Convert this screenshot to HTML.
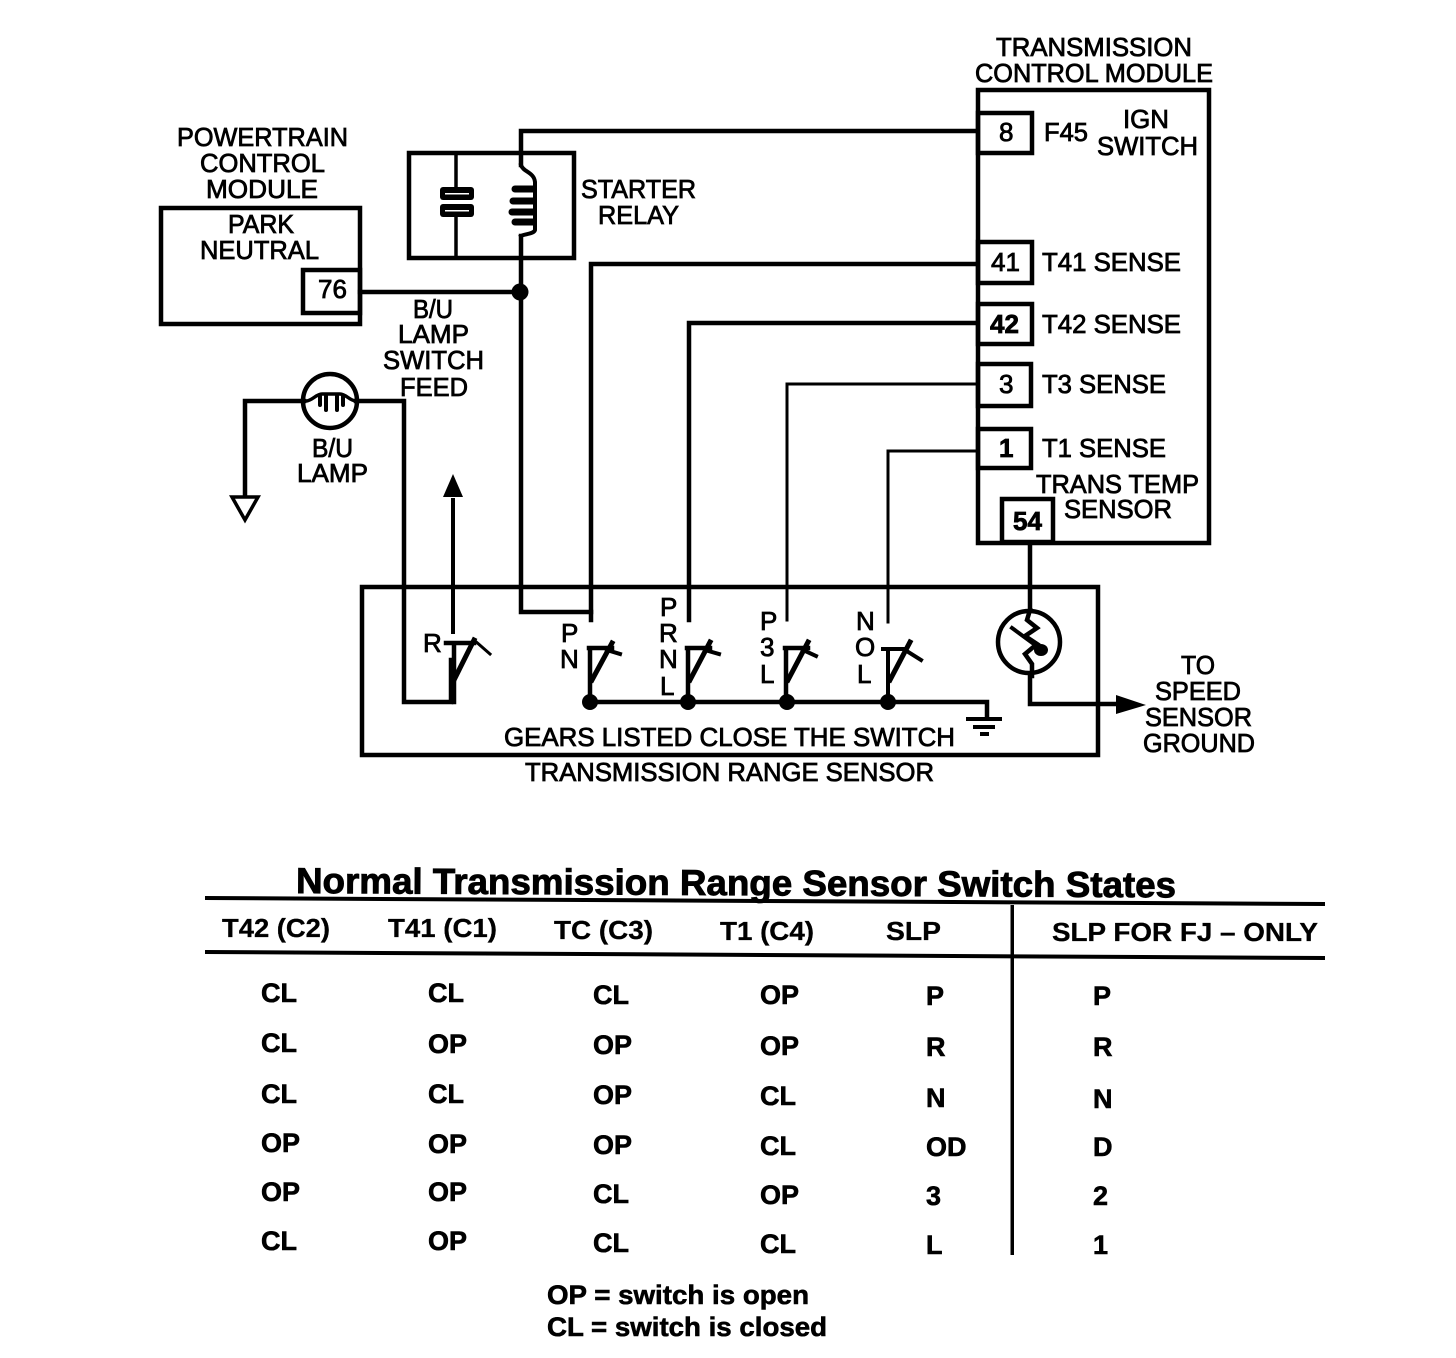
<!DOCTYPE html>
<html><head><meta charset="utf-8">
<style>
html,body{margin:0;padding:0;background:#fff}
svg{display:block}
text{font-family:"Liberation Sans",sans-serif;fill:#000}
.l{font-size:26px;stroke:#000;stroke-width:.8px}
.s{font-size:26px;stroke:#000;stroke-width:.8px}
.b{font-size:27px;font-weight:bold;stroke:#000;stroke-width:.6px}
.h{font-size:26px;font-weight:bold;stroke:#000;stroke-width:.3px}
.t{font-size:36px;font-weight:bold;stroke:#000;stroke-width:.9px}
</style></head><body>
<svg width="1456" height="1358" viewBox="0 0 1456 1358" xmlns="http://www.w3.org/2000/svg">
<g fill="none" stroke="#000" stroke-width="4.5" stroke-linecap="square">
<!-- TCM -->
<rect x="978" y="90" width="231" height="453"/>
<rect x="978" y="113" width="54" height="40"/>
<rect x="978" y="242" width="54" height="41"/>
<rect x="978" y="304" width="54" height="40"/>
<rect x="978" y="364" width="53" height="42"/>
<rect x="978" y="429" width="53" height="39"/>
<rect x="1002" y="499" width="51" height="43"/>
<!-- PCM -->
<rect x="161" y="208" width="199" height="116"/>
<rect x="303" y="270" width="57" height="43"/>
<!-- relay -->
<rect x="409" y="153" width="165" height="105"/>
<!-- wires -->
<path d="M521 165V131H977"/>
<path d="M521 236V612H591"/>
<path d="M360 292H521"/>
<path d="M591 620V264H977"/>
<path d="M689 620V323H977"/>
<path d="M787 620V384H977" stroke-width="3"/>
<path d="M888 622V451H977" stroke-width="3"/>
<path d="M1030 543V610"/>
<path d="M1030 676V704H1125"/>
<path d="M456 153V186M456 218V256" stroke-width="3.5"/>
<!-- coil -->
<path d="M521 165C523 172 534 172 535 182V230C534 234 524 234 521 236" stroke-width="4"/>
<path d="M515 189H533M513 201H533M512 212H533M515 222H533" stroke-width="7" stroke-linecap="round"/>
<!-- lamp -->
<path d="M245 494V401H304M356 401H404V702H451V660"/>
<circle cx="330" cy="401" r="27"/>
<path d="M306 401C312 401 316 394 322 394H340C346 394 350 401 356 401" stroke-width="3.5"/>
<path d="M320 396V405M326 396V410M337 396V410M343 396V405" stroke-width="4" stroke-linecap="round"/>
<!-- ground tri -->
<path d="M232 497H258L245 520Z" stroke-width="3.5"/>
<!-- TRS box -->
<path d="M362 587H1098V755H362Z"/>
<path d="M453 500V632" stroke-width="4"/>
<!-- switches -->
<path d="M590 702H987V716"/>
<g stroke-width="3.5">
<path d="M446 643H474M454 643V702" stroke-width="4.5"/>
<path d="M454 680L474 640" stroke-width="5"/>
<path d="M474 640L490 654" stroke-width="3"/>
<path d="M589 648H612M590 700V648" stroke-width="4.5"/>
<path d="M592 680L612 643" stroke-width="5"/>
<path d="M607 650L620 654" stroke-width="4"/>
<path d="M687 648H710M688 700V648" stroke-width="4.5"/>
<path d="M690 680L710 642" stroke-width="5"/>
<path d="M705 650L719 654" stroke-width="4"/>
<path d="M785 648H808M786 700V648" stroke-width="4.5"/>
<path d="M788 680L808 642" stroke-width="5"/>
<path d="M803 650L816 656" stroke-width="4"/>
<path d="M883 649H906M888 700V649" stroke-width="4"/>
<path d="M890 680L910 642" stroke-width="5"/>
<path d="M905 650L921 660" stroke-width="4"/>
</g>
<!-- thermistor -->
<circle cx="1029" cy="642" r="31"/>
<path d="M1030 610L1027 620L1037 628L1025 636L1037 644L1025 654L1032 664V676" stroke-width="4.5"/>
<path d="M1012 628L1042 650" stroke-width="4"/>
</g>
<g fill="#000" stroke="none">
<rect x="440" y="187" width="34" height="13" rx="3"/>
<rect x="440" y="204" width="34" height="13" rx="3"/>
<rect x="445" y="193" width="24" height="1.5" fill="#fff"/>
<rect x="445" y="210" width="24" height="1.5" fill="#fff"/>
<ellipse cx="1041" cy="650" rx="7" ry="6"/>
<circle cx="520" cy="292" r="8.5"/>
<circle cx="590" cy="702" r="8"/>
<circle cx="688" cy="702" r="8"/>
<circle cx="787" cy="702" r="8"/>
<circle cx="888" cy="702" r="8"/>
<path d="M443 497L453 474L463 497Z"/>
<path d="M1116 695L1146 705L1116 714Z"/>
<rect x="966" y="717" width="36" height="4"/>
<rect x="973" y="725" width="22" height="4"/>
<rect x="980" y="732" width="9" height="4"/>
<!-- table rules -->
<path d="M205 896L1325 902V906L205 900Z"/>
<path d="M205 950L1325 956V960L205 954Z"/>
<rect x="1010.500" y="905" width="3.500" height="350"/>
</g>
<!-- labels -->
<g class="l">
<text x="996" y="56" textLength="196" lengthAdjust="spacingAndGlyphs">TRANSMISSION</text>
<text x="975" y="82" textLength="238" lengthAdjust="spacingAndGlyphs">CONTROL MODULE</text>
<text x="177" y="146" textLength="171" lengthAdjust="spacingAndGlyphs">POWERTRAIN</text>
<text x="200" y="172" textLength="125" lengthAdjust="spacingAndGlyphs">CONTROL</text>
<text x="206" y="198" textLength="112" lengthAdjust="spacingAndGlyphs">MODULE</text>
<text x="228" y="233" textLength="66" lengthAdjust="spacingAndGlyphs">PARK</text>
<text x="200" y="259" textLength="119" lengthAdjust="spacingAndGlyphs">NEUTRAL</text>
<text x="581" y="198" textLength="115" lengthAdjust="spacingAndGlyphs">STARTER</text>
<text x="598" y="224" textLength="81" lengthAdjust="spacingAndGlyphs">RELAY</text>
<text x="1123" y="128" textLength="46" lengthAdjust="spacingAndGlyphs">IGN</text>
<text x="1097" y="155" textLength="101" lengthAdjust="spacingAndGlyphs">SWITCH</text>
<text x="413" y="318" textLength="40" lengthAdjust="spacingAndGlyphs">B/U</text>
<text x="398" y="343" textLength="71" lengthAdjust="spacingAndGlyphs">LAMP</text>
<text x="383" y="369" textLength="101" lengthAdjust="spacingAndGlyphs">SWITCH</text>
<text x="400" y="396" textLength="68" lengthAdjust="spacingAndGlyphs">FEED</text>
<text x="312" y="457" textLength="41" lengthAdjust="spacingAndGlyphs">B/U</text>
<text x="297" y="482" textLength="71" lengthAdjust="spacingAndGlyphs">LAMP</text>
<text x="1036" y="493" textLength="163" lengthAdjust="spacingAndGlyphs">TRANS TEMP</text>
<text x="1064" y="518" textLength="108" lengthAdjust="spacingAndGlyphs">SENSOR</text>
<text x="504" y="746" textLength="451" lengthAdjust="spacingAndGlyphs">GEARS LISTED CLOSE THE SWITCH</text>
<text x="525" y="781" textLength="409" lengthAdjust="spacingAndGlyphs">TRANSMISSION RANGE SENSOR</text>
<text x="1181" y="674" textLength="34" lengthAdjust="spacingAndGlyphs">TO</text>
<text x="1155" y="700" textLength="86" lengthAdjust="spacingAndGlyphs">SPEED</text>
<text x="1145" y="726" textLength="107" lengthAdjust="spacingAndGlyphs">SENSOR</text>
<text x="1143" y="752" textLength="112" lengthAdjust="spacingAndGlyphs">GROUND</text>
<text x="1042" y="271" textLength="139" lengthAdjust="spacingAndGlyphs">T41 SENSE</text>
<text x="1042" y="333" textLength="139" lengthAdjust="spacingAndGlyphs">T42 SENSE</text>
<text x="1042" y="393" textLength="124" lengthAdjust="spacingAndGlyphs">T3 SENSE</text>
<text x="1042" y="457" textLength="124" lengthAdjust="spacingAndGlyphs">T1 SENSE</text>
<text x="1044" y="141" textLength="44" lengthAdjust="spacingAndGlyphs">F45</text>
</g>
<g class="s">
<text x="999" y="141">8</text>
<text x="991" y="271">41</text>
<text x="990" y="333" style="font-weight:bold">42</text>
<text x="999" y="393">3</text>
<text x="999" y="457" style="font-weight:bold">1</text>
<text x="1013" y="530" style="font-weight:bold">54</text>
<text x="318" y="298">76</text>
<text x="423" y="652">R</text>
<text x="561" y="642">P</text>
<text x="560" y="668">N</text>
<text x="660" y="616">P</text>
<text x="659" y="642">R</text>
<text x="659" y="668">N</text>
<text x="660" y="695">L</text>
<text x="760" y="630">P</text>
<text x="760" y="656">3</text>
<text x="760" y="683">L</text>
<text x="856" y="630">N</text>
<text x="855" y="656">O</text>
<text x="857" y="683">L</text>
</g>
<!-- table -->
<text class="t" x="296" y="893" textLength="880" lengthAdjust="spacingAndGlyphs" transform="rotate(0.28 296 893)">Normal Transmission Range Sensor Switch States</text>
<g class="h">
<text x="222" y="937" textLength="108" lengthAdjust="spacingAndGlyphs">T42 (C2)</text>
<text x="388" y="937" textLength="109" lengthAdjust="spacingAndGlyphs">T41 (C1)</text>
<text x="554" y="939" textLength="99" lengthAdjust="spacingAndGlyphs">TC (C3)</text>
<text x="720" y="940" textLength="94" lengthAdjust="spacingAndGlyphs">T1 (C4)</text>
<text x="886" y="940" textLength="55" lengthAdjust="spacingAndGlyphs">SLP</text>
<text x="1052" y="941" textLength="266" lengthAdjust="spacingAndGlyphs">SLP FOR FJ – ONLY</text>
</g>
<g class="b">
<text x="261" y="1002">CL</text><text x="428" y="1002">CL</text><text x="593" y="1004">CL</text><text x="760" y="1004">OP</text><text x="926" y="1005">P</text><text x="1093" y="1005">P</text>
<text x="261" y="1052">CL</text><text x="428" y="1053">OP</text><text x="593" y="1054">OP</text><text x="760" y="1055">OP</text><text x="926" y="1056">R</text><text x="1093" y="1056">R</text>
<text x="261" y="1103">CL</text><text x="428" y="1103">CL</text><text x="593" y="1104">OP</text><text x="760" y="1105">CL</text><text x="926" y="1107">N</text><text x="1093" y="1108">N</text>
<text x="261" y="1152">OP</text><text x="428" y="1153">OP</text><text x="593" y="1154">OP</text><text x="760" y="1155">CL</text><text x="926" y="1156">OD</text><text x="1093" y="1156">D</text>
<text x="261" y="1201">OP</text><text x="428" y="1201">OP</text><text x="593" y="1203">CL</text><text x="760" y="1204">OP</text><text x="926" y="1205">3</text><text x="1093" y="1205">2</text>
<text x="261" y="1250">CL</text><text x="428" y="1250">OP</text><text x="593" y="1252">CL</text><text x="760" y="1253">CL</text><text x="926" y="1254">L</text><text x="1093" y="1254">1</text>
<text x="547" y="1304" textLength="262" lengthAdjust="spacingAndGlyphs">OP = switch is open</text>
<text x="547" y="1336" textLength="280" lengthAdjust="spacingAndGlyphs">CL = switch is closed</text>
</g>
</svg>
</body></html>
